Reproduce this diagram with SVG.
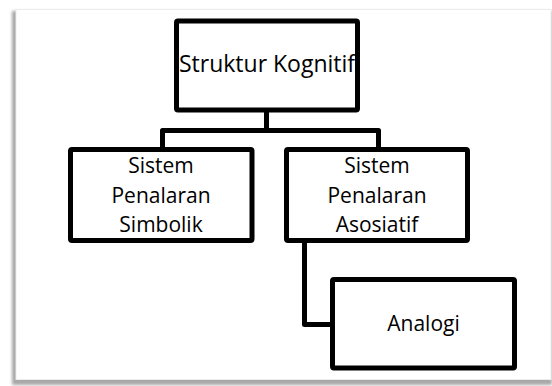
<svg xmlns="http://www.w3.org/2000/svg" width="552" height="386" viewBox="0 0 552 386">
<defs>
<filter id="sh" x="-5%" y="-5%" width="110%" height="110%"><feGaussianBlur stdDeviation="1.5"/></filter>
<style>
.box{fill:#fff;stroke:#000;stroke-width:5;}
.lbl{font-family:"Open Sans","Noto Sans",sans-serif;font-size:21px;fill:#000;text-anchor:middle;}
.con{fill:none;stroke:#000;stroke-width:5;stroke-linejoin:round;}
</style>
</defs>
<rect x="0" y="0" width="552" height="386" fill="#fff"/>
<g id="frame">
<rect x="12" y="11" width="540" height="374" fill="#a8a8a8" filter="url(#sh)"/>
<rect x="16" y="9.5" width="535" height="370" fill="#fff" stroke="#ececec" stroke-width="1"/>
</g>
<g id="connectors">
<path class="con" d="M266.5 110 V130.5"/>
<path class="con" d="M162.5 149.5 V130.5 H378.5 V149.5"/>
<path class="con" d="M304.5 240.5 V324.5 H332.5"/>
</g>
<g id="struktur">
<rect class="box" x="176.5" y="21" width="181" height="89" rx="1.5"/>
<text class="lbl" x="267" y="72" style="font-size:23px">Struktur Kognitif</text>
</g>
<g id="simbolik">
<rect class="box" x="70.5" y="149.5" width="181.5" height="91" rx="1.5"/>
<text class="lbl" x="161" y="173">Sistem</text>
<text class="lbl" x="161" y="203">Penalaran</text>
<text class="lbl" x="161" y="232">Simbolik</text>
</g>
<g id="asosiatif">
<rect class="box" x="286.5" y="149.5" width="181" height="91" rx="1.5"/>
<text class="lbl" x="377" y="173">Sistem</text>
<text class="lbl" x="377" y="203">Penalaran</text>
<text class="lbl" x="377" y="232">Asosiatif</text>
</g>
<g id="analogi">
<rect class="box" x="332.5" y="279.5" width="182" height="88.5" rx="1.5"/>
<text class="lbl" x="423.5" y="331">Analogi</text>
</g>
</svg>
